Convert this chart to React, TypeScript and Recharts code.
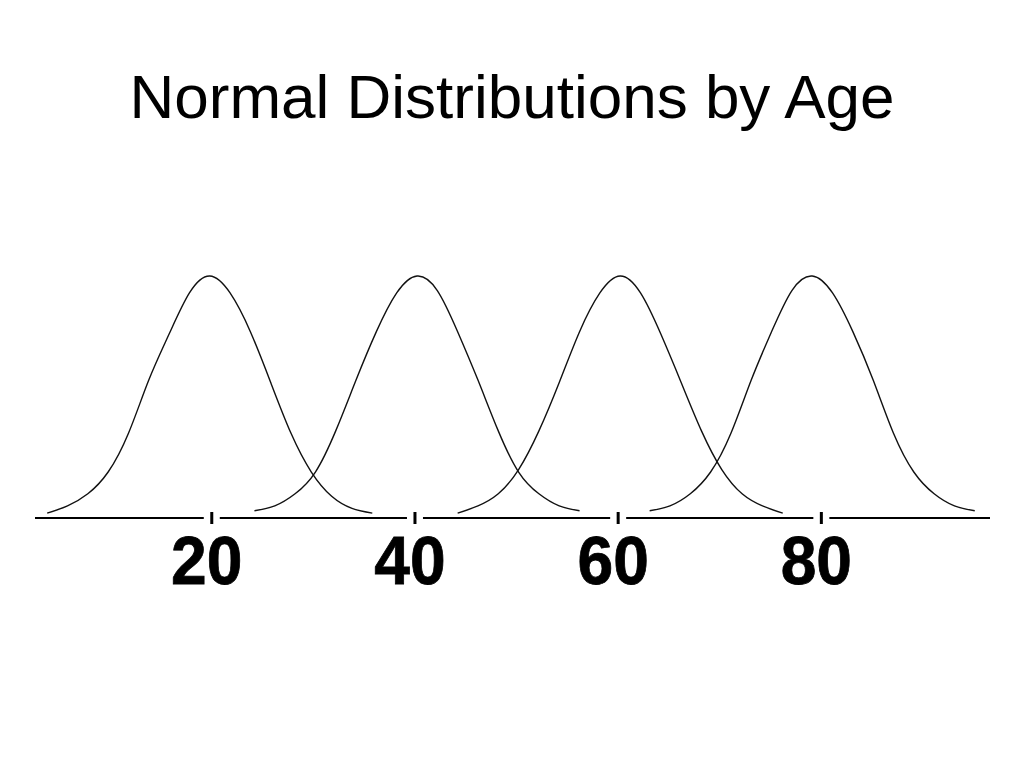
import React from "react";
import { LineChart, Line, XAxis, YAxis } from "recharts";

const agesAge20 = [3.8, 5.8, 7.8, 9.8, 11.8, 13.8, 15.8, 17.8, 19.8, 21.8, 23.8, 25.8, 27.8, 29.8, 31.8, 33.8, 35.8];
const agesAge40 = [24.2, 26.2, 28.2, 30.2, 32.2, 34.2, 36.2, 38.2, 40.2, 42.2, 44.2, 46.2, 48.2, 50.2, 52.2, 54.2, 56.2];
const agesAge60 = [44.2, 46.2, 48.2, 50.2, 52.2, 54.2, 56.2, 58.2, 60.2, 62.2, 64.2, 66.2, 68.2, 70.2, 72.2, 74.2, 76.2];
const agesAge80 = [63.1, 65.1, 67.1, 69.1, 71.1, 73.1, 75.1, 77.1, 79.1, 81.1, 83.1, 85.1, 87.1, 89.1, 91.1, 93.1, 95.1];

// Relative heights (peak = 1)
const heightsAge20 = [0.02, 0.05, 0.1, 0.19, 0.35, 0.57, 0.76, 0.93, 1.0, 0.93, 0.77, 0.56, 0.35, 0.19, 0.09, 0.04, 0.02];
const heightsAge40 = [0.03, 0.05, 0.1, 0.19, 0.36, 0.57, 0.77, 0.93, 1.0, 0.94, 0.77, 0.57, 0.36, 0.19, 0.1, 0.05, 0.03];
const heightsAge60 = [0.02, 0.05, 0.1, 0.2, 0.36, 0.56, 0.77, 0.93, 1.0, 0.93, 0.76, 0.56, 0.36, 0.2, 0.1, 0.05, 0.02];
const heightsAge80 = [0.03, 0.05, 0.1, 0.19, 0.35, 0.57, 0.77, 0.94, 1.0, 0.93, 0.77, 0.57, 0.35, 0.19, 0.1, 0.05, 0.03];

const tickValues = [20, 40, 60, 80];
const tickLabels = ["20", "40", "60", "80"];
const titleText = "Normal Distributions by Age";

const build = (ages: number[], heights: number[]) =>
  ages.map((age, i) => ({ age, h: heights[i] }));

const series = [
  build(agesAge20, heightsAge20),
  build(agesAge40, heightsAge40),
  build(agesAge60, heightsAge60),
  build(agesAge80, heightsAge80),
];

const AgeTick = (props: any) => {
  const { x, y, payload } = props;
  const idx = tickValues.indexOf(payload.value);
  const label = idx >= 0 ? tickLabels[idx] : String(payload.value);
  return (
    <g>
      <rect x={x - 8} y={y - 3} width={16} height={6} fill="#fff" />
      <rect x={x - 1.5} y={y - 6} width={3} height={12} fill="#000" />
      <text
        transform={`translate(${x - 5},${y + 66}) scale(0.93,1)`}
        x={0}
        y={0}
        textAnchor="middle"
        fontFamily="'Liberation Sans', Arial, sans-serif"
        fontWeight="bold"
        fontSize={69}
        fill="#000"
        stroke="#000"
        strokeWidth={0.8}
      >
        {label}
      </text>
    </g>
  );
};

export default function App() {
  return (
    <div style={{ position: "absolute", left: 0, top: 0, width: 1024, height: 768, background: "#fff" }}>
      <div
        style={{
          position: "absolute",
          left: 0,
          top: 65.5,
          width: 1024,
          textAlign: "center",
          fontFamily: "'Liberation Sans', Arial, sans-serif",
          fontSize: 62,
          lineHeight: "62px",
          color: "#000",
          whiteSpace: "nowrap",
        }}
      >
        {titleText}
      </div>
      <div style={{ position: "absolute", left: 0, top: 0 }}>
        <LineChart
          width={1024}
          height={768}
          margin={{ top: 227.6, right: 34, bottom: 150, left: 35 }}
        >
          <XAxis
            type="number"
            dataKey="age"
            domain={[2.6, 96.6]}
            ticks={tickValues}
            tick={<AgeTick />}
            tickLine={false}
            tickSize={0}
            tickMargin={0}
            axisLine={{ stroke: "#000", strokeWidth: 2 }}
            height={100}
            interval={0}
          />
          <YAxis type="number" domain={[0, 1.2]} hide />
          {series.map((d, i) => (
            <Line
              key={i}
              data={d}
              dataKey="h"
              type="natural"
              dot={false}
              activeDot={false}
              stroke="#111"
              strokeWidth={1.4}
              isAnimationActive={false}
            />
          ))}
        </LineChart>
      </div>
    </div>
  );
}
